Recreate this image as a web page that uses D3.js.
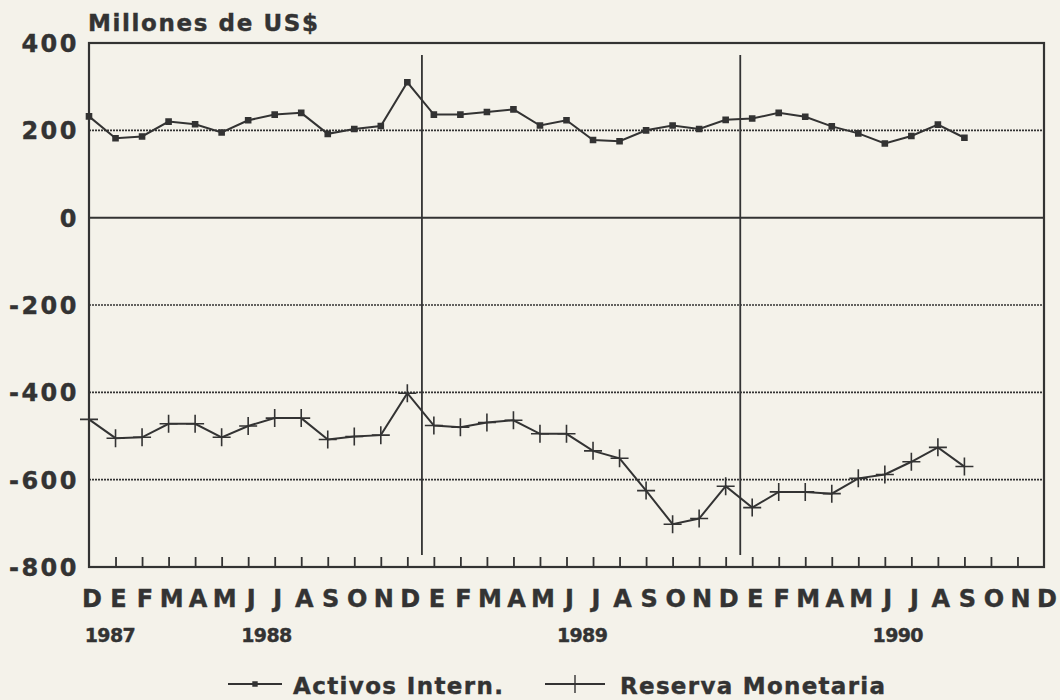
<!DOCTYPE html>
<html>
<head>
<meta charset="utf-8">
<script src="https://cdn.jsdelivr.net/npm/d3@7"></script>
<style>
    body { margin: 0; background: #f4f2ea; }
    svg { display: block; }
    text { font-family: "DejaVu Sans", sans-serif; font-weight: bold; fill: #333; stroke: #333; stroke-width: 0.4px; }
</style>
</head>
<body>
<div id="chart"></div>
<script>
const months = ["D","E","F","M","A","M","J","J","A","S","O","N",
    "D","E","F","M","A","M","J","J","A","S","O","N",
    "D","E","F","M","A","M","J","J","A","S","O","N","D"];
const years = ["1987", "1988", "1989", "1990"];
const yearPos = [0.8, 6.7, 18.6, 30.5];
const yTicks = [400, 200, 0, -200, -400, -600, -800];
const activos = [232, 182, 186, 220, 214, 195, 223, 236, 240, 192, 203, 210,
    310, 236, 236, 242, 248, 211, 223, 178, 175, 200, 211, 203,
    224, 227, 240, 231, 209, 193, 170, 187, 213, 183];
const reserva = [-462, -505, -503, -472, -472, -503, -477, -459, -459, -508, -501, -498,
    -402, -476, -480, -469, -464, -495, -495, -534, -551, -625, -702, -689,
    -615, -664, -628, -628, -632, -597, -588, -559, -526, -570];
const yearBreaks = [12.55, 24.55];

const ink = "#333";
const svg = d3.select("#chart").append("svg")
    .attr("width", 1060)
    .attr("height", 700);

const xScale = d3.scaleLinear().domain([0, 36]).range([89, 1044]);
const yScale = d3.scaleLinear().domain([-800, 400]).range([567, 43]);

// grid lines
svg.append("g")
    .selectAll("line")
    .data(yTicks.filter(function (d) { return d !== 400 && d !== -800; }))
    .join("line")
    .attr("x1", xScale(0))
    .attr("x2", xScale(36))
    .attr("y1", function (d) { return yScale(d); })
    .attr("y2", function (d) { return yScale(d); })
    .attr("stroke", ink)
    .attr("stroke-width", function (d) { return d === 0 ? 2 : 1.6; })
    .attr("stroke-dasharray", function (d) { return d === 0 ? null : "2,1"; });

svg.append("g")
    .selectAll("line")
    .data(yearBreaks)
    .join("line")
    .attr("x1", function (d) { return xScale(d); })
    .attr("x2", function (d) { return xScale(d); })
    .attr("y1", 55)
    .attr("y2", 555)
    .attr("stroke", ink)
    .attr("stroke-width", 1.8);

// frame
svg.append("rect")
    .attr("x", xScale(0))
    .attr("y", yScale(400))
    .attr("width", xScale(36) - xScale(0))
    .attr("height", yScale(-800) - yScale(400))
    .attr("fill", "none")
    .attr("stroke", ink)
    .attr("stroke-width", 2.2);

// x ticks (pointing up)
const xAxis = svg.append("g")
    .attr("transform", "translate(0," + yScale(-800) + ")")
    .call(d3.axisTop(xScale).tickValues(d3.range(1, 36)).tickSize(10).tickFormat(""));
xAxis.select(".domain").remove();
xAxis.selectAll("line").attr("stroke", ink).attr("stroke-width", 1.8);

// y labels
svg.append("g")
    .selectAll("text")
    .data(yTicks)
    .join("text")
    .attr("x", 79)
    .attr("y", function (d) { return yScale(d) + 9; })
    .attr("text-anchor", "end")
    .attr("font-size", 24)
    .attr("letter-spacing", 2.5)
    .text(function (d) { return d; });

svg.append("text")
    .attr("x", 88)
    .attr("y", 31)
    .attr("font-size", 23)
    .attr("textLength", 230)
    .attr("lengthAdjust", "spacing")
    .text("Millones de US$");

// month letters
svg.append("g")
    .selectAll("text")
    .data(months)
    .join("text")
    .attr("x", function (d, i) { return xScale(i) + 3; })
    .attr("y", 607)
    .attr("text-anchor", "middle")
    .attr("font-size", 24)
    .text(function (d) { return d; });

svg.append("g")
    .selectAll("text")
    .data(years)
    .join("text")
    .attr("x", function (d, i) { return xScale(yearPos[i]); })
    .attr("y", 642)
    .attr("text-anchor", "middle")
    .attr("font-size", 19)
    .attr("textLength", 51)
    .attr("lengthAdjust", "spacing")
    .text(function (d) { return d; });

function draw_series(data, marker)
{
    var line = d3.line()
        .x(function (d, i) { return xScale(i); })
        .y(function (d) { return yScale(d); });

    svg.append("path")
        .datum(data)
        .attr("d", line)
        .attr("fill", "none")
        .attr("stroke", ink)
        .attr("stroke-width", 2);

    svg.append("g")
        .selectAll("path")
        .data(data)
        .join("path")
        .attr("transform", function (d, i) { return "translate(" + xScale(i) + "," + yScale(d) + ")"; })
        .attr("d", marker)
        .attr("fill", ink)
        .attr("stroke", ink)
        .attr("stroke-width", 1.6);
}

const squareMark = "M-2.5,-2.5h5v5h-5Z";
const crossMark = "M-9,0H9M0,-9V9";

draw_series(activos, squareMark);
draw_series(reserva, crossMark);

// legend
function legend_item(x1, x2, marker, label, tx, tw)
{
    var g = svg.append("g");
    g.append("line")
        .attr("x1", x1).attr("x2", x2)
        .attr("y1", 684).attr("y2", 684)
        .attr("stroke", ink)
        .attr("stroke-width", 1.8);
    g.append("path")
        .attr("transform", "translate(" + (x1 + x2) / 2 + ",684)")
        .attr("d", marker)
        .attr("fill", ink)
        .attr("stroke", ink)
        .attr("stroke-width", 1.4);
    g.append("text")
        .attr("x", tx)
        .attr("y", 694)
        .attr("font-size", 23)
        .attr("textLength", tw)
        .attr("lengthAdjust", "spacing")
        .text(label);
}

legend_item(228, 282, "M-2,-2h4v4h-4Z", "Activos  Intern.", 293, 210);
legend_item(545, 605, "M0,-9V9", "Reserva Monetaria", 620, 265);
</script>
</body>
</html>
